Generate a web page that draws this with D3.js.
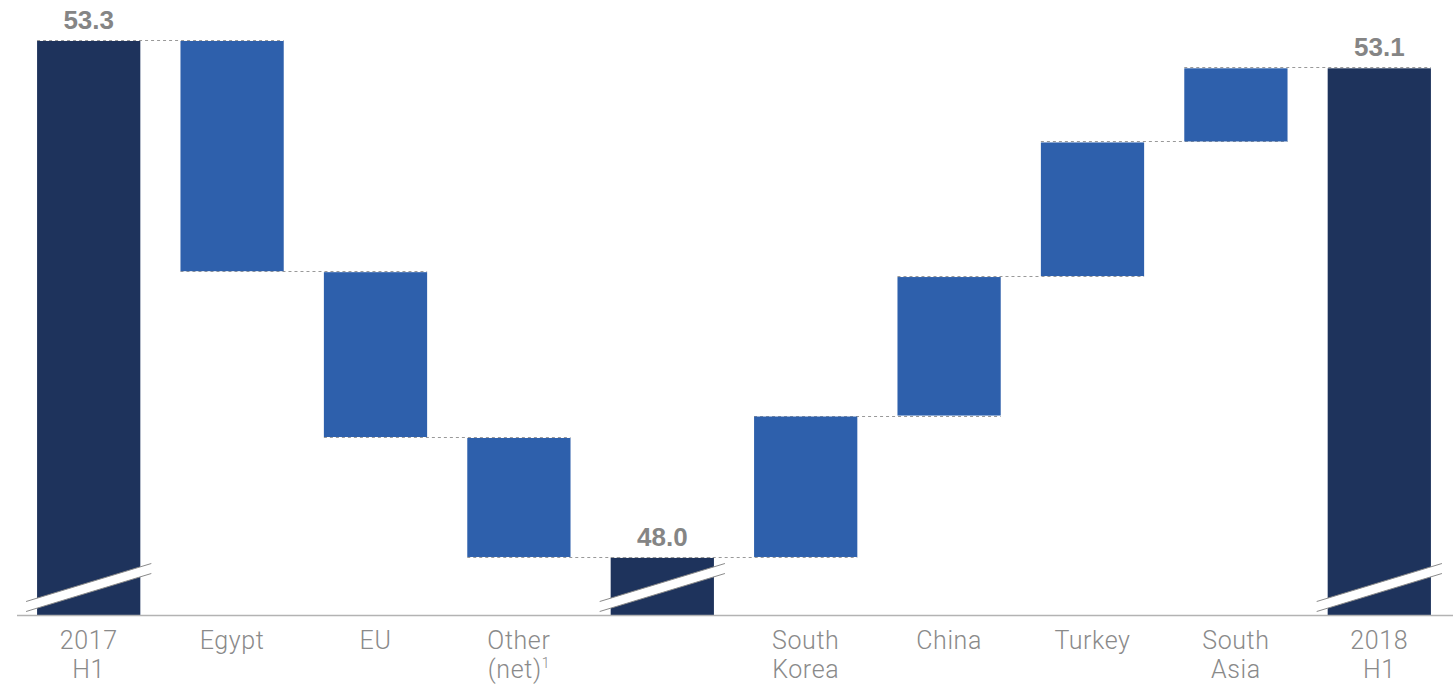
<!DOCTYPE html>
<html>
<head>
<meta charset="utf-8">
<script src="https://d3js.org/d3.v7.min.js"></script>
<style>
  body { margin: 0; background: #fff; }
  svg { display: block; }
</style>
</head>
<body>
<svg id="chart" width="1453" height="685"></svg>
<script>
// ---- data ----
var categories = ["2017 H1", "Egypt", "EU", "Other (net)", "Subtotal", "South Korea", "China", "Turkey", "South Asia", "2018 H1"];
var labelLines = [["2017", "H1"], ["Egypt"], ["EU"], ["Other", "(net)"], [], ["South", "Korea"], ["China"], ["Turkey"], ["South", "Asia"], ["2018", "H1"]];
var kinds      = ["total", "delta", "delta", "delta", "total", "delta", "delta", "delta", "delta", "total"];
var startValue = 53.3;
var deltas     = [0, -2.37, -1.70, -1.23, 0, 1.45, 1.43, 1.38, 0.76, 0];
var totalLabels = {0: "53.3", 4: "48.0", 9: "53.1"};

var navy = "#1e335c";
var blue = "#2e60ac";

var svg = d3.select("#chart");

// build waterfall rows
var running = startValue;
var rows = categories.map(function(c, i) {
  var r = {cat: c, kind: kinds[i], lines: labelLines[i]};
  if (kinds[i] == "total") {
    r.lo = 47.4; r.hi = running; r.end = running;
  } else {
    var prev = running;
    running = running + deltas[i];
    r.lo = Math.min(prev, running); r.hi = Math.max(prev, running); r.end = running;
  }
  return r;
});

var x = d3.scaleBand().domain(categories).range([17, 1451]).paddingInner(0.28).paddingOuter(0.14);
var y = d3.scaleLinear().domain([47.4, 53.3]).range([615.5, 40]);
var bw = x.bandwidth();

// connectors (dashed) from each bar's level to the next bar
for (var i = 0; i < rows.length - 1; i++) {
  svg.append("line")
    .attr("x1", x(categories[i]))
    .attr("x2", x(categories[i + 1]) + bw)
    .attr("y1", Math.round(y(rows[i].end)) + 0.5)
    .attr("y2", Math.round(y(rows[i].end)) + 0.5)
    .attr("stroke", "#999")
    .attr("stroke-width", 1)
    .attr("stroke-dasharray", "3,3");
}

// bars
svg.selectAll("rect.bar")
  .data(rows)
  .enter().append("rect")
  .attr("class", "bar")
  .attr("x", function(d) { return x(d.cat); })
  .attr("y", function(d) { return y(d.hi) + 1; })
  .attr("width", bw)
  .attr("height", function(d) { return y(d.lo) - y(d.hi) - 1; })
  .attr("fill", function(d) { return d.kind == "total" ? navy : blue; });

// axis line + labels
var axis = svg.append("g")
  .attr("transform", "translate(0,615.5)")
  .call(d3.axisBottom(x).tickSize(0).tickFormat(""));
axis.select(".domain").attr("stroke", "#b3b3b3").attr("stroke-width", 1.5);
axis.select(".domain").attr("d", "M17,0H1453");

// break marks on total bars
var totals = rows.filter(function(d) { return d.kind == "total"; });
var brk = svg.selectAll("g.brk").data(totals).enter().append("g").attr("class", "brk");
brk.append("polygon")
  .attr("points", function(d) {
    var x0 = x(d.cat) - 11, x1 = x(d.cat) + bw + 11, b = y(47.4);
    return [[x0, b - 14], [x1, b - 52], [x1, b - 42], [x0, b - 4]].join(" ");
  })
  .attr("fill", "#fff");
[14, 4].forEach(function(off) {
  brk.append("line")
    .attr("x1", function(d) { return x(d.cat) - 11; })
    .attr("x2", function(d) { return x(d.cat) + bw + 11; })
    .attr("y1", y(47.4) - off)
    .attr("y2", y(47.4) - off - 38)
    .attr("stroke", "#8a8a8a")
    .attr("stroke-width", 1);
});

// value labels over totals
svg.selectAll("text.val")
  .data(totals)
  .enter().append("text")
  .attr("class", "val")
  .attr("x", function(d) { return x(d.cat) + bw / 2; })
  .attr("y", function(d) { return y(d.hi) - 11; })
  .attr("text-anchor", "middle")
  .attr("font-family", "Liberation Sans, Arial, sans-serif")
  .attr("font-weight", "bold")
  .attr("font-size", 26)
  .attr("fill", "#858585")
  .text(function(d) { return totalLabels[rows.indexOf(d)]; });

// category labels
var lbl = svg.selectAll("text.cat")
  .data(rows)
  .enter().append("text")
  .attr("class", "cat")
  .attr("text-anchor", "middle")
  .attr("font-family", "Roboto, Liberation Sans, sans-serif")
  .attr("font-weight", 300)
  .attr("font-size", 25)
  .attr("letter-spacing", 0.6)
  .attr("fill", "#8a8a8a");

lbl.each(function(d) {
  var t = d3.select(this);
  d.lines.forEach(function(line, k) {
    var ts = t.append("tspan")
      .attr("x", x(d.cat) + bw / 2)
      .attr("y", 649 + k * 29)
      .text(line);
    if (d.cat == "Other (net)" && k == 1) {
      t.append("tspan").attr("font-size", 14).attr("dy", -10).text("1");
    }
  });
});
</script>
</body>
</html>
